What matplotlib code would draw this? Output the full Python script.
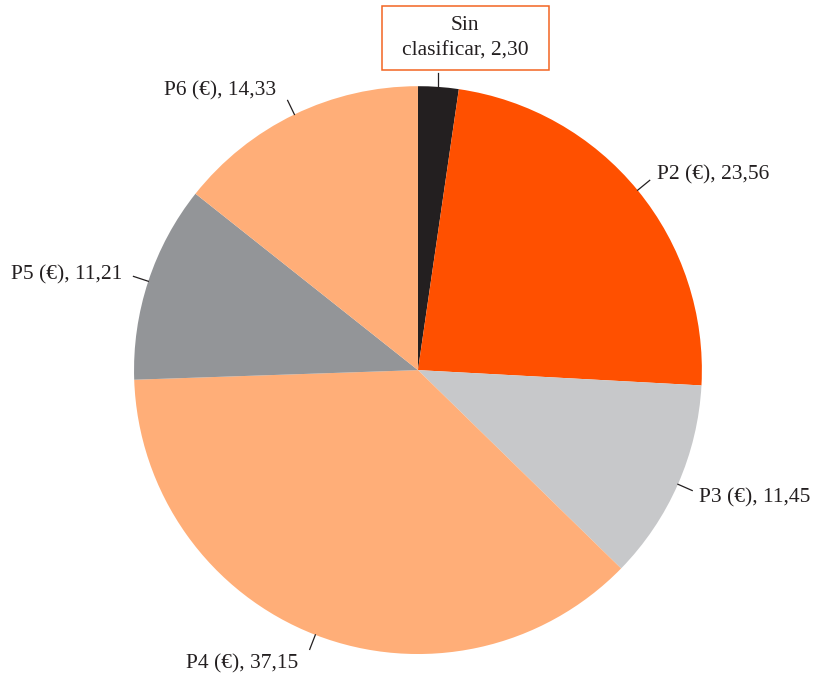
import matplotlib

matplotlib.use("Agg")
import matplotlib.pyplot as plt
import numpy as np
from matplotlib.patches import Rectangle

labels = ["Sin\nclasificar", "P2 (€)", "P3 (€)", "P4 (€)", "P5 (€)", "P6 (€)"]
values = [2.30, 23.56, 11.45, 37.15, 11.21, 14.33]
colors = ["#231f20", "#ff5000", "#c7c8ca", "#ffae78", "#939598", "#ffae78"]

plt.rcParams["font.family"] = ["Liberation Serif", "DejaVu Serif"]
FS = 15.5

fig = plt.figure(figsize=(8.16, 6.76), dpi=100)
ax = fig.add_axes([0.1642, 0.0325, 0.696, 0.840])
wedges, _ = ax.pie(values, colors=colors, startangle=90, counterclock=False,
                   radius=1.0, wedgeprops=dict(linewidth=0))
ax.set_xlim(-1, 1)
ax.set_ylim(-1, 1)
ax.set_aspect("equal")
ax.axis("off")

for i, (w, lab, val) in enumerate(zip(wedges, labels, values)):
    ang = np.deg2rad((w.theta1 + w.theta2) / 2)
    c, s = np.cos(ang), np.sin(ang)
    txt = f"{lab}, {val:.2f}".replace(".", ",")
    if i == 0:
        # boxed label above the small slice
        ax.plot([c, c], [s, s + 0.05], color="#231f20", lw=0.9, clip_on=False)
        cx, cy = 0.167, 1.169
        ax.text(cx, cy, txt, ha="center", va="center", fontsize=FS,
                color="#231f20", linespacing=1.45)
        ax.add_patch(Rectangle((cx - 0.294, cy - 0.113), 0.588, 0.226,
                               fc="none", ec="#f26522", lw=1.1,
                               clip_on=False))
        continue
    ex, ey = 1.055 * c, 1.055 * s
    ax.plot([c, ex], [s, ey], color="#231f20", lw=0.9, clip_on=False)
    if c > 0:
        ha, dx = "left", 0.025
    else:
        ha, dx = "right", -0.04
    ax.text(ex + dx, ey + s * 0.045 - 0.008, txt, ha=ha,
            va="center", fontsize=FS, color="#231f20")

fig.savefig("out.png", dpi=100)
